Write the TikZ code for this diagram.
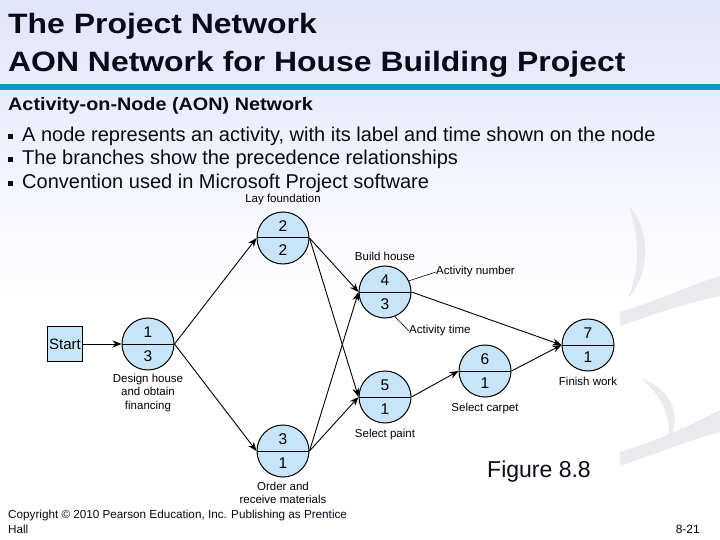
\documentclass[tikz,border=0pt]{standalone}
\usepackage{fontspec}
\setmainfont{Liberation Sans}
\usetikzlibrary{positioning,arrows.meta}
\definecolor{nodeblue}{RGB}{200,228,248}
\definecolor{barblue}{RGB}{20,150,190}
\definecolor{headtop}{RGB}{226,228,250}
\definecolor{swoosh}{RGB}{234,234,238}
\definecolor{ink}{RGB}{10,10,25}
\newcommand{\wide}[2]{\scalebox{#1}[1]{#2}}
\newcommand{\blt}{\raisebox{3bp}{\rule{5bp}{5bp}}\hspace{9bp}}
\tikzset{
  act/.style={circle,draw,fill=nodeblue,minimum size=52bp,inner sep=0pt,line width=1bp,
    path picture={\draw[line width=1bp] (path picture bounding box.west) -- (path picture bounding box.east);}},
  num/.style={font=\fontsize{15.5bp}{15bp}\selectfont,inner sep=0pt},
  actlabel/.style={font=\fontsize{11.5bp}{13.5bp}\selectfont,align=center,inner sep=0pt},
  link/.style={-{Stealth[length=9bp,width=7bp]},line width=0.9bp},
  txt/.style={anchor=base west,inner sep=0pt,text=ink}
}
\begin{document}
\begin{tikzpicture}[x=1bp,y=-1bp]
\useasboundingbox (0,0) rectangle (720,540);
% background and header
\shade[top color=headtop,bottom color=white] (0,0) rectangle (720,300);
\fill[white] (0,300) rectangle (720,540);
\fill[swoosh] (620,312) .. controls (660,300) and (690,285) .. (720,276) -- (720,296) .. controls (690,302) and (660,312) .. (620,326) -- cycle;
\fill[swoosh] (620,452) .. controls (660,440) and (690,425) .. (720,410) -- (720,432) .. controls (690,440) and (660,452) .. (620,466) -- cycle;
\fill[swoosh] (628,205) .. controls (652,230) and (650,275) .. (628,298) .. controls (640,270) and (640,235) .. (628,205) -- cycle;
\fill[swoosh] (640,378) .. controls (675,390) and (682,420) .. (668,440) .. controls (672,418) and (662,395) .. (640,378) -- cycle;
\fill[barblue] (0,84) rectangle (720,90);
\node[txt,font=\fontsize{28bp}{32bp}\selectfont\bfseries] (title1) at (8,34) {\wide{1.14}{The Project Network}};
\node[txt,font=\fontsize{28bp}{32bp}\selectfont\bfseries] (title2) at (8,72) {\wide{1.14}{AON Network for House Building Project}};
\node[txt,font=\fontsize{18bp}{20bp}\selectfont\bfseries] (sub) at (8,111) {\wide{1.1}{Activity-on-Node (AON) Network}};
\node[txt,font=\fontsize{20bp}{22bp}\selectfont] (b1) at (8,142) {\blt A node represents an activity, with its label and time shown on the node};
\node[txt,font=\fontsize{20bp}{22bp}\selectfont] (b2) at (8,165) {\blt The branches show the precedence relationships};
\node[txt,font=\fontsize{20bp}{22bp}\selectfont] (b3) at (8,189) {\blt Convention used in Microsoft Project software};
% network
\node[draw,fill=nodeblue,line width=1bp,minimum size=35bp,inner sep=0pt,font=\fontsize{15bp}{15bp}\selectfont] (start) at (65,344) {Start};
\node[act,label={[num,yshift=12bp]center:1},label={[num,yshift=-12bp]center:3}] (design) at (148,344) {};
\node[act,label={[num,yshift=12bp]center:2},label={[num,yshift=-12bp]center:2}] (found) at (283,238) {};
\node[act,label={[num,yshift=12bp]center:3},label={[num,yshift=-12bp]center:1}] (order) at (283,451) {};
\node[act,label={[num,yshift=12bp]center:4},label={[num,yshift=-12bp]center:3}] (build) at (385,292) {};
\node[act,label={[num,yshift=12bp]center:5},label={[num,yshift=-12bp]center:1}] (paint) at (385,397) {};
\node[act,label={[num,yshift=12bp]center:6},label={[num,yshift=-12bp]center:1}] (carpet) at (485,371) {};
\node[act,label={[num,yshift=12bp]center:7},label={[num,yshift=-12bp]center:1}] (finish) at (588,345) {};
% captions
\node[actlabel,above=6bp of found] (found-c) {Lay foundation};
\node[actlabel,below=3bp of design] (design-c) {Design house\\and obtain\\financing};
\node[actlabel,above=5bp of build] (build-c) {Build house};
\node[actlabel,below=5bp of paint] (paint-c) {Select paint};
\node[actlabel,below=5bp of carpet] (carpet-c) {Select carpet};
\node[actlabel,below=5bp of finish] (finish-c) {Finish work};
\node[actlabel,below=4bp of order] (order-c) {Order and\\receive materials};
\node[actlabel,anchor=west] (actnum) at (436,272) {Activity number};
\node[actlabel,anchor=west] (acttime) at (409,331) {Activity time};
\draw[line width=0.6bp] (build.25) -- (actnum.west);
\draw[line width=0.6bp] (build.-68) -- (acttime.west);
% precedence
\draw[link] (start) -- (design.west);
\draw[link] (design.east) -- (found.west);
\draw[link] (design.east) -- (order.west);
\draw[link] (found.east) -- (build.west);
\draw[link] (found.east) -- (paint.west);
\draw[link] (order.east) -- (build.west);
\draw[link] (order.east) -- (paint.west);
\draw[link] (build.east) -- (finish.west);
\draw[link] (paint.east) -- (carpet.west);
\draw[link] (carpet.east) -- (finish.west);
% footer
\node[txt,font=\fontsize{23bp}{26bp}\selectfont] (fig) at (487,477) {Figure 8.8};
\node[txt,font=\fontsize{11.7bp}{14bp}\selectfont] (copy1) at (8,518) {Copyright \textcopyright{} 2010 Pearson Education, Inc. Publishing as Prentice};
\node[txt,font=\fontsize{11.7bp}{14bp}\selectfont] (copy2) at (8,533) {Hall};
\node[anchor=base east,inner sep=0pt,font=\fontsize{12bp}{14bp}\selectfont] (page) at (700,533) {8-21};
\end{tikzpicture}
\end{document}
